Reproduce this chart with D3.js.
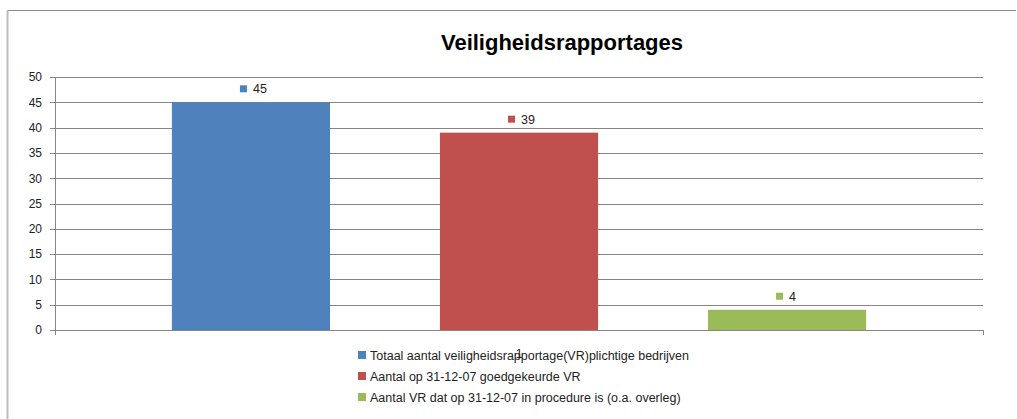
<!DOCTYPE html>
<html>
<head>
  <meta charset="utf-8">
  <script src="https://d3js.org/d3.v7.min.js"></script>
  <style>
    body { margin: 0; background: #fff; }
    .axis text { font-family: "Liberation Sans", Arial, sans-serif; font-size: 12px; fill: #222; }
    .axis path, .axis line { stroke: #868686; shape-rendering: crispEdges; }
    .grid line { stroke: #868686; shape-rendering: crispEdges; }
    .legend text, .vlabel { font-family: "Liberation Sans", Arial, sans-serif; font-size: 12.5px; fill: #222; }
  </style>
</head>
<body>
<div id="chart"></div>
<script>
// chart data
var categories = ["1"];
var seriesNames = [
  "Totaal aantal  veiligheidsrapportage(VR)plichtige bedrijven",
  "Aantal op 31-12-07 goedgekeurde VR",
  "Aantal VR dat op 31-12-07 in procedure is (o.a. overleg)"
];
var seriesValues = [45, 39, 4];
var seriesColors = ["#4f81bd", "#c0504d", "#9bbb59"];
var yTicks = [0, 5, 10, 15, 20, 25, 30, 35, 40, 45, 50];

var W = 1017, H = 419;
var margin = {top: 77, right: 34, bottom: 89, left: 55},
    width = W - margin.left - margin.right,
    height = H - margin.top - margin.bottom;

var root = d3.select('#chart').append('svg')
  .attr('width', W)
  .attr('height', H);

// outer frame (top and left edges only are visible)
root.append('line').attr('x1', 7.5).attr('y1', 10.5).attr('x2', 1016).attr('y2', 10.5)
  .attr('stroke', '#8c8c8c');
root.append('line').attr('x1', 7.5).attr('y1', 10.5).attr('x2', 7.5).attr('y2', H)
  .attr('stroke', '#bdbdbd').attr('stroke-width', 2);

// title
root.append('text')
  .attr('x', 562).attr('y', 50)
  .attr('text-anchor', 'middle')
  .style('font-family', '"Liberation Sans", Arial, sans-serif')
  .style('font-weight', 'bold')
  .style('font-size', '22px')
  .style('fill', '#000')
  .text('Veiligheidsrapportages');

var svg = root.append('g')
  .attr('transform', 'translate(' + margin.left + ',' + margin.top + ')');

var yScale = d3.scaleLinear().domain([0, 50]).range([height, 0]);

var x0 = d3.scaleBand().domain(categories).range([0, width]).padding(0);
var x1 = d3.scaleBand().domain(d3.range(seriesNames.length))
  .range([0, x0.bandwidth()])
  .paddingInner(0.41)
  .paddingOuter(0.436);

// gridlines
svg.append('g').attr('class', 'grid')
  .selectAll('line')
  .data(yTicks.filter(function(d){ return d > 0; }))
  .enter().append('line')
  .attr('x1', 0).attr('x2', width)
  .attr('y1', function(d){ return Math.round(yScale(d)) + 0.5; })
  .attr('y2', function(d){ return Math.round(yScale(d)) + 0.5; });

// bars
var cat = svg.selectAll('.cat')
  .data(categories)
  .enter().append('g')
  .attr('class', 'cat')
  .attr('transform', function(d){ return 'translate(' + x0(d) + ',0)'; });

cat.selectAll('rect')
  .data(seriesValues)
  .enter().append('rect')
  .attr('x', function(d, i){ return x1(i); })
  .attr('width', x1.bandwidth())
  .attr('y', function(d){ return yScale(d); })
  .attr('height', function(d){ return height - yScale(d); })
  .style('fill', function(d, i){ return seriesColors[i]; });

// value labels with colour key
var vl = cat.selectAll('.vl')
  .data(seriesValues)
  .enter().append('g')
  .attr('class', 'vl')
  .attr('transform', function(d, i){
    return 'translate(' + (x1(i) + x1.bandwidth() / 2) + ',' + (yScale(d) - 13) + ')';
  });
vl.append('rect')
  .attr('x', -11).attr('y', -4).attr('width', 7).attr('height', 7)
  .style('fill', function(d, i){ return seriesColors[i]; });
vl.append('text')
  .attr('class', 'vlabel')
  .attr('x', 2).attr('y', 4)
  .text(function(d){ return d; });

// y-axis
svg.append('g')
  .attr('class', 'y axis')
  .call(d3.axisLeft(yScale).tickValues(yTicks).tickSize(5).tickPadding(8).tickSizeOuter(0));

// x-axis
var xAxis = svg.append('g')
  .attr('class', 'x axis')
  .attr('transform', 'translate(0,' + height + ')')
  .call(d3.axisBottom(x0).tickSize(0).tickPadding(19).tickSizeOuter(5));
xAxis.select('.domain').attr('d', 'M0.5,5V0.5H' + (width + 0.5) + 'V5');

// legend
var legend = root.append('g')
  .attr('class', 'legend')
  .attr('transform', 'translate(358,355)');
var li = legend.selectAll('g')
  .data(seriesNames)
  .enter().append('g')
  .attr('transform', function(d, i){ return 'translate(0,' + i * 21 + ')'; });
li.append('rect')
  .attr('x', 0).attr('y', -4).attr('width', 8).attr('height', 8)
  .style('fill', function(d, i){ return seriesColors[i]; });
li.append('text')
  .attr('x', 12).attr('y', 4.5)
  .text(function(d){ return d; });
</script>
</body>
</html>
